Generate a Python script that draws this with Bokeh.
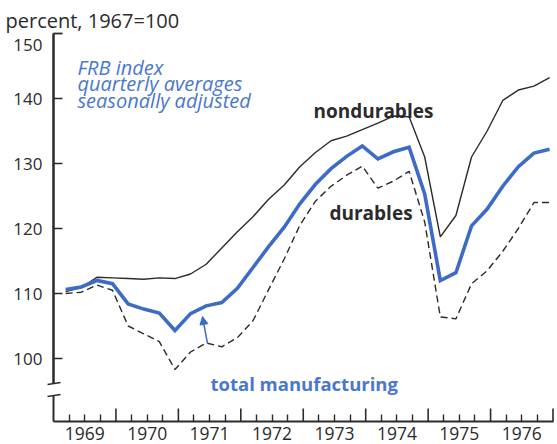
from bokeh.plotting import figure
from bokeh.models import Range1d, LinearAxis, FixedTicker, Label, Arrow, NormalHead
from bokeh.embed import file_html
from bokeh.resources import INLINE

# ---- data (FRB index, quarterly averages, 1967=100) ----
years = [1969, 1970, 1971, 1972, 1973, 1974, 1975, 1976]
year_labels = ["1969", "1970", "1971", "1972", "1973", "1974", "1975", "1976"]
quarters_per_year = 4

total_manufacturing = [110.6, 111.0, 112.0, 111.5, 108.4, 107.6, 107.0, 104.3,
                       106.9, 108.1, 108.6, 110.8, 114.0, 117.2, 120.2, 123.8,
                       126.8, 129.2, 131.1, 132.7, 130.7, 131.8, 132.5, 125.3,
                       112.0, 113.2, 120.4, 123.0, 126.5, 129.5, 131.6, 132.2]
nondurables = [110.3, 110.9, 112.5, 112.4, 112.3, 112.2, 112.4, 112.3,
               113.0, 114.5, 117.0, 119.5, 121.8, 124.5, 126.7, 129.5,
               131.7, 133.5, 134.2, 135.2, 136.2, 137.3, 137.2, 131.0,
               118.7, 122.0, 131.0, 135.0, 139.7, 141.3, 141.9, 143.2]
durables = [110.0, 110.2, 111.3, 110.5, 105.0, 103.8, 102.6, 98.3,
            101.0, 102.4, 101.8, 103.2, 105.8, 110.6, 115.3, 120.5,
            124.2, 126.5, 128.2, 129.6, 126.2, 127.3, 128.8, 121.0,
            106.4, 106.1, 111.5, 113.5, 116.5, 120.0, 124.0, 124.0]
y_ticks = [100, 110, 120, 130, 140]
y_top_label = "150"

# ---- layout constants ----
W, H = 557, 444
px_x, px_y = 62.44, 6.5          # pixels per year / per index point
ax_left_px, ax_top_px = 53, 33    # where 1969 and 150 fall on the canvas
n = len(total_manufacturing)
t = [years[0] + (k + 0.78) / quarters_per_year for k in range(n)]
x0 = years[0]
x_end = years[-1] + 1
y_top = 150
y_bottom = 90.31
brk_hi, brk_lo = 96.15, 94.3

BLACK = "#2b2b2b"
BLUE_LINE = "#3d6cc6"
BLUE_TEXT = "#4a78cc"
FONT = "Open Sans"

xr = Range1d(x0 - ax_left_px / px_x, x0 + (W - ax_left_px) / px_x)
yr = Range1d(y_top - (H - ax_top_px) / px_y, y_top + ax_top_px / px_y)
p = figure(width=W, height=H, x_range=xr, y_range=yr,
           x_axis_type=None, y_axis_type=None, toolbar_location=None, output_backend="svg",
           min_border=0)
p.outline_line_color = None

# y axis: ticks and labels (fixed at 1969), axis line only down to the break
yax = LinearAxis(fixed_location=x0, bounds=(brk_hi, y_top),
                 ticker=FixedTicker(ticks=y_ticks, minor_ticks=[]),
                 major_tick_in=9, major_tick_out=0, minor_tick_in=0, minor_tick_out=0,
                 axis_line_color=BLACK, axis_line_width=2,
                 major_tick_line_color=BLACK, major_tick_line_width=1.6,
                 major_label_standoff=11, major_label_text_font=FONT,
                 major_label_text_font_size="17px", major_label_text_color=BLACK)
p.add_layout(yax, "left")
# the top label sits a little below its bracket
top_lab_pos = y_top - 11 / px_y
yax_top = LinearAxis(fixed_location=x0, ticker=FixedTicker(ticks=[top_lab_pos], minor_ticks=[]),
                     major_label_overrides={top_lab_pos: y_top_label},
                     major_tick_in=0, major_tick_out=0, minor_tick_in=0, minor_tick_out=0,
                     axis_line_color=None, major_label_standoff=11, major_label_text_font=FONT,
                     major_label_text_font_size="17px", major_label_text_color=BLACK)
p.add_layout(yax_top, "left")

# x axis: labels at mid-year, short ticks at every quarter boundary
mids = [y + 0.5 for y in years]
q_minor = [y + q / 4 for y in years for q in (1, 3)]
xax = LinearAxis(fixed_location=y_bottom, bounds=(x0, x_end),
                 ticker=FixedTicker(ticks=mids, minor_ticks=q_minor),
                 major_label_overrides={m: lab for m, lab in zip(mids, year_labels)},
                 major_tick_in=7, major_tick_out=0, minor_tick_in=7, minor_tick_out=0,
                 axis_line_color=BLACK, axis_line_width=1.8,
                 major_tick_line_color=BLACK, major_tick_line_width=1.4,
                 minor_tick_line_color=BLACK, minor_tick_line_width=1.4,
                 major_label_standoff=6, major_label_text_font=FONT,
                 major_label_text_font_size="17.5px", major_label_text_color=BLACK)
p.add_layout(xax, "below")

# series
p.line(t, nondurables, line_color=BLACK, line_width=1.4)
p.line(t, durables, line_color=BLACK, line_width=1.4, line_dash="7 4")
p.line(t, total_manufacturing, line_color=BLUE_LINE, line_width=3.6, line_join="miter")

# broken y-axis line (each piece its own glyph), top bracket, break marks, tall year ticks
deco = []
deco.append(p.line([x0, x0], [y_top, brk_hi], line_color=BLACK, line_width=2))
deco.append(p.line([x0, x0], [brk_lo, y_bottom], line_color=BLACK, line_width=2))
deco.append(p.line([x0, x0 + 9 / px_x], [y_top, y_top], line_color=BLACK, line_width=1.8))
deco.append(p.segment(x0=[x0 - 6 / px_x] * 2, y0=[brk_hi - 0.15, brk_lo - 0.15],
                      x1=[x0 + 7 / px_x] * 2, y1=[brk_hi + 0.15, brk_lo + 0.15],
                      line_color=BLACK, line_width=1.6))
yb = years[1:] + [x_end]
deco.append(p.segment(x0=yb, y0=[y_bottom] * len(yb), x1=yb, y1=[y_bottom + 13 / px_y] * len(yb),
                      line_color=BLACK, line_width=1.6))
for r in deco:
    r.level = "overlay"

# texts
p.add_layout(Label(x=x0 - 48 / px_x, y=y_top + 13.5 / px_y, text="percent, 1967=100",
                   text_font=FONT, text_font_size="20px", text_color=BLACK,
                   text_baseline="alphabetic"))
for txt, yy in [("FRB index", 144.82), ("quarterly averages", 142.31), ("seasonally adjusted", 139.69)]:
    p.add_layout(Label(x=1969.384, y=yy, text=txt, text_font=FONT, text_font_size="20px",
                       text_font_style="italic", text_color=BLUE_TEXT, text_baseline="alphabetic"))
p.add_layout(Label(x=1973.164, y=138.15, text="nondurables", text_font=FONT, text_font_size="19px",
                   text_font_style="bold", text_color=BLACK, text_baseline="alphabetic"))
p.add_layout(Label(x=1973.42, y=122.31, text="durables", text_font=FONT, text_font_size="19px",
                   text_font_style="bold", text_color=BLACK, text_baseline="alphabetic"))
p.add_layout(Label(x=1971.514, y=96.15, text="total manufacturing", text_font=FONT,
                   text_font_size="18.5px", text_font_style="bold", text_color=BLUE_TEXT,
                   text_baseline="alphabetic"))
p.add_layout(Arrow(x_start=1971.466, y_start=102.31, x_end=1971.386, y_end=106.46,
                   line_color=BLUE_LINE, line_width=1.5,
                   end=NormalHead(size=8, fill_color=BLUE_LINE, line_color=BLUE_LINE)))

open("out.html", "w").write(file_html(p, INLINE))
